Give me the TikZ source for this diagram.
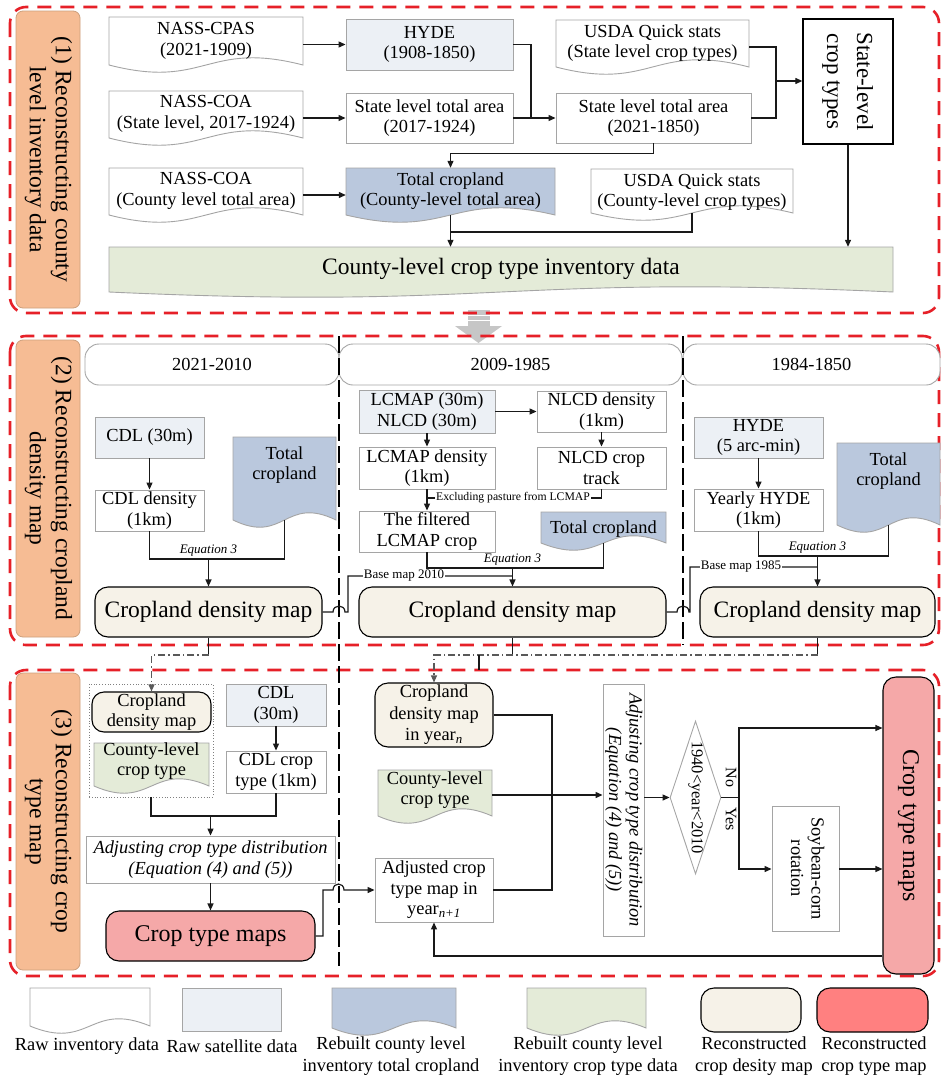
\documentclass[tikz,border=0pt]{standalone}
\usepackage{fontspec}
\setmainfont{Liberation Serif}
\usepackage{graphicx}
\usetikzlibrary{arrows.meta,shapes.geometric,fit,calc}

\definecolor{redd}{RGB}{230,32,40}
\definecolor{orangef}{RGB}{246,188,148}
\definecolor{oranged}{RGB}{205,160,125}
\definecolor{satf}{RGB}{236,240,245}
\definecolor{bluef}{RGB}{186,200,221}
\definecolor{greenf}{RGB}{228,235,216}
\definecolor{creamf}{RGB}{246,242,232}
\definecolor{pinkf}{RGB}{245,168,168}
\definecolor{legred}{RGB}{255,128,128}
\definecolor{boxline}{RGB}{165,165,165}

\newcommand\fN{\fontsize{18.4}{20.5}\selectfont}
\newcommand\fL{\fontsize{23.5}{26}\selectfont}
\newcommand\fS{\fontsize{13}{15}\selectfont}

% [k] name x0 x1 top ye fill texty text
\newcommand\docnode[9][25]{%
  \path[draw=boxline, line width=0.9pt, fill=#7] (#3,#5) -- (#4,#5) -- (#4,#6)
    .. controls ({(#3+#4)/2},#6-#1) and ({(#3+#4)/2},#6+#1) .. (#3,#6) -- cycle;
  \node[fit={(#3,#5) (#4,#6)}, inner sep=0pt] (#2) {};
  \node[align=center, inner sep=0pt, font=\fN] (#2-t) at ({(#3+#4)/2},#8) {#9};
}

\begin{document}
\begin{tikzpicture}[x=1pt,y=-1pt,
  box/.style={draw=boxline, line width=0.9pt, fill=white, inner sep=0pt, align=center, font=\fN},
  sat/.style={box, fill=satf},
  cream/.style={draw=black, line width=1.1pt, fill=creamf, rounded corners=13pt, inner sep=0pt, align=center, font=\fN},
  pinkr/.style={cream, fill=pinkf},
  hdr/.style={draw=boxline, line width=0.9pt, fill=white, rounded corners=14pt, inner sep=0pt, font=\fN},
  secl/.style={draw=oranged, line width=0.8pt, fill=orangef, rounded corners=7pt, inner sep=0pt, font=\fL},
  conn/.style={draw=black!90, line width=1.2pt},
  arr/.style={conn, -{Triangle[length=7pt,width=6pt]}},
  dd/.style={draw=black!65, line width=1.1pt, dash pattern=on 7pt off 3pt on 1.5pt off 3pt},
  divl/.style={draw=black, line width=1.3pt, dash pattern=on 17pt off 5pt},
  redbox/.style={draw=redd, line width=2.6pt, dash pattern=on 14pt off 9pt, rounded corners=16pt},
  eqn/.style={font=\fS\itshape, inner sep=1pt},
  lbl/.style={font=\fS, fill=white, inner sep=1pt},
  exl/.style={font=\fontsize{11.7}{13}\selectfont, fill=white, inner sep=1pt},
  leg/.style={font=\fontsize{18.4}{22}\selectfont, align=center, inner sep=0pt},
]
\useasboundingbox (0,0) rectangle (942,1076);
\fill[white] (0,0) rectangle (942,1076);

% grey block arrow between sections
\fill[gray!45] (468,310) rectangle (490,326);
\draw[white, line width=0.8pt] (468,315) -- (490,315) (468,320) -- (490,320);
\fill[gray!45] (455,326) -- (502,326) -- (478.5,343) -- cycle;

% red section frames
\draw[redbox] (10,7) rectangle (939,313);
\draw[redbox] (10,336) rectangle (939,645);
\draw[redbox] (10,670) rectangle (939,976);

% section labels
\node[secl, minimum width=64, minimum height=297] (s1) at (48,159.5) {\rotatebox{-90}{\begin{tabular}{@{}c@{}}(1) Reconstructing county\\level inventory data\end{tabular}}};
\node[secl, minimum width=64, minimum height=297] (s2) at (48,488.5) {\rotatebox{-90}{\begin{tabular}{@{}c@{}}(2) Reconstructing cropland\\density map\end{tabular}}};
\node[secl, minimum width=64, minimum height=297] (s3) at (48,821.5) {\rotatebox{-90}{\begin{tabular}{@{}c@{}}(3) Reconstructing crop\\type map\end{tabular}}};

% ---------------- Section 1 ----------------
\docnode{cpas}{109}{303}{17}{65}{white}{41}{NASS-CPAS\\(2021-1909)}
\node[sat, minimum width=167, minimum height=51] (hyde) at (429.5,44.5) {HYDE\\(1908-1850)};
\docnode{coaS}{109}{303}{91}{138}{white}{114}{NASS-COA\\(State level, 2017-1924)}
\node[box, minimum width=167, minimum height=50] (st1) at (429.5,118) {State level total area\\(2017-1924)};
\docnode{coaC}{109}{303}{168}{215}{white}{191}{NASS-COA\\(County level total area)}
\docnode{totC}{346}{555}{168}{215}{bluef}{191}{Total cropland\\(County-level total area)}
\docnode{usS}{556}{749}{20}{67}{white}{43}{USDA Quick stats\\(State level crop types)}
\node[box, minimum width=195, minimum height=50] (st2) at (653.5,118) {State level total area\\(2021-1850)};
\docnode{usC}{591}{793}{169}{213}{white}{192}{USDA Quick stats\\(County-level crop types)}
\node[box, draw=black, line width=1.3pt, minimum width=90, minimum height=125, font=\fontsize{23}{30}\selectfont] (sct) at (848,81.5) {\rotatebox{-90}{\begin{tabular}{@{}c@{}}State-level\\crop types\end{tabular}}};
\docnode[18]{inv}{109}{893}{247}{292}{greenf}{269}{\fL County-level crop type inventory data}

\draw[arr] (cpas.east |- hyde.west) -- (hyde.west);
\draw[arr] (coaS.east |- st1.west) -- (st1.west);
\draw[arr] ([yshift=-3.5pt]coaC.east) -- ([yshift=-3.5pt]totC.west);
\draw[conn] (hyde.east) -| (531,118);
\draw[arr] (st1.east) -- (st2.west);
\draw[conn] (usS.east |- 0,47) -| (776,118) -- (st2.east);
\coordinate (j2) at (776,81);
\draw[arr] (j2) -- (sct.west |- j2);
\draw[arr] (st2.south) -- ++(0,10) -| (totC.north);
\draw[arr] (totC.south) -- (totC.south |- inv.north);
\draw[conn] (usC.south) |- (totC.south |- 0,232);
\draw[arr] (sct.south) -- (sct.south |- inv.north);

% ---------------- Section 2 ----------------
\node[hdr, minimum width=254, minimum height=41] (h1) at (212,364.5) {2021-2010};
\node[hdr, minimum width=343, minimum height=41] (h2) at (510.5,364.5) {2009-1985};
\node[hdr, minimum width=257, minimum height=41] (h3) at (811.5,364.5) {1984-1850};
\draw[divl] (339,336) -- (339,966);
\draw[divl] (683,336) -- (683,645);

\node[sat, minimum width=109, minimum height=41] (cdl30) at (149.5,437.5) {CDL (30m)};
\node[box, minimum width=109, minimum height=41] (cdlden) at (149.5,510.5) {CDL density\\(1km)};
\docnode{tc1}{233}{336}{437}{520}{bluef}{465}{Total\\cropland}
\node[cream, minimum width=227, minimum height=50, font=\fL] (map1) at (208.5,612) {Cropland density map};

\node[sat, minimum width=136, minimum height=43] (lcmap) at (427,411.5) {LCMAP (30m)\\NLCD (30m)};
\node[box, minimum width=129, minimum height=41] (nlcdden) at (601.5,411.5) {NLCD density\\(1km)};
\node[box, minimum width=136, minimum height=42] (lcden) at (427,468) {LCMAP density\\(1km)};
\node[box, minimum width=129, minimum height=42] (nlcdtr) at (601.5,468) {NLCD crop\\track};
\node[box, minimum width=136, minimum height=41] (filt) at (427,531.5) {The filtered\\LCMAP crop};
\docnode{tc2}{541}{666}{512}{543}{bluef}{529}{Total cropland}
\node[cream, minimum width=307, minimum height=50, font=\fL] (map2) at (512.5,612) {Cropland density map};

\node[sat, minimum width=129, minimum height=41] (hyde5) at (758.5,437.5) {HYDE\\(5 arc-min)};
\node[box, minimum width=129, minimum height=42] (yhyde) at (758.5,510) {Yearly HYDE\\(1km)};
\docnode{tc3}{837}{940}{443}{525}{bluef}{471}{Total\\cropland}
\node[cream, minimum width=235, minimum height=50, font=\fL] (map3) at (817.5,612) {Cropland density map};

% col 1
\draw[arr] (cdl30) -- (cdlden);
\draw[conn] (cdlden.south) -- (cdlden.south |- 0,559) -| (tc1.south);
\draw[arr] (map1.north |- 0,559) -- (map1.north);
\node[eqn] (eq1) at (208.5,551) {Equation 3};
\draw[conn] (map1.east) -- (333,612) .. controls (333,604) and (345,604) .. (345,612) -- (348,612) -- (348,576) -- (map2.north |- 0,576);
\node[lbl] (bm1) at (404,576) {Base map 2010};
% col 2
\draw[arr] (lcmap) -- (nlcdden);
\draw[arr] (lcmap) -- (lcden);
\draw[arr] (nlcdden) -- (nlcdtr);
\draw[arr] (lcden) -- (filt);
\draw[conn] (nlcdtr.south) -- (nlcdtr.south |- 0,498) -- (lcden.south |- 0,498);
\node[exl] (excl) at (513,498) {Excluding pasture from LCMAP};
\draw[conn] (filt.south) -- (filt.south |- 0,568) -| (tc2.south);
\draw[arr] (map2.north |- 0,568) -- (map2.north);
\node[eqn] (eq2) at (512.5,560) {Equation 3};
\draw[conn] (map2.east) -- (677,612) .. controls (677,604) and (689,604) .. (689,612) -- (690,612) -- (690,567) -- (map3.north |- 0,567);
\node[lbl] (bm2) at (741,567) {Base map 1985};
% col 3
\draw[arr] (hyde5) -- (yhyde);
\draw[conn] (yhyde.south) -- (yhyde.south |- 0,556) -| (tc3.south);
\draw[arr] (map3.north |- 0,556) -- (map3.north);
\node[eqn] (eq3) at (817.5,548) {Equation 3};

% ---------------- Section 3 ----------------
\node[draw=black!50, dotted, line width=0.8pt, minimum width=124, minimum height=113, inner sep=0pt] (grp) at (151,740.5) {};
\node[cream, minimum width=119, minimum height=40, rounded corners=12pt] (cdmA) at (151.5,712) {Cropland\\density map};
\docnode{ctA}{94}{209}{743}{786}{greenf}{761}{County-level\\crop type}
\node[sat, minimum width=100, minimum height=42] (cdl30b) at (276,705) {CDL\\(30m)};
\node[box, minimum width=100, minimum height=42] (cdlct) at (276,772) {CDL crop\\type (1km)};
\node[box, minimum width=249, minimum height=47, font=\fN\itshape] (adj1) at (210.5,859.5) {Adjusting crop type distribution\\(Equation (4) and (5))};
\node[pinkr, minimum width=209, minimum height=50, font=\fontsize{24}{26}\selectfont] (ctm1) at (210.5,936) {Crop type maps};

\node[cream, minimum width=118, minimum height=64, font=\fontsize{18.4}{21.5}\selectfont] (cdmn) at (434,715) {Cropland\\density map\\in year\textsubscript{\itshape n}};
\docnode{ctn}{378}{492}{770}{816}{greenf}{790}{County-level\\crop type}
\node[box, minimum width=118, minimum height=64] (adjn) at (434,890) {Adjusted crop\\type map in\\year\textsubscript{\itshape n+1}};
\node[box, minimum width=41, minimum height=252, font=\fN\itshape] (adj2) at (623.5,810) {\rotatebox{-90}{\begin{tabular}{@{}c@{}}Adjusting crop type distribution\\(Equation (4) and (5))\end{tabular}}};
\node[draw=boxline, line width=0.9pt, diamond, minimum width=51, minimum height=153, inner sep=0pt] (dia) at (695.5,797.5) {};
\node[font=\fontsize{16.5}{18}\selectfont, inner sep=0pt] (diat) at (dia) {\rotatebox{-90}{1940<year<2010}};
\node[font=\fontsize{16}{18}\selectfont, inner sep=0pt] (no) at (731,777.5) {\rotatebox{-90}{No}};
\node[font=\fontsize{16}{18}\selectfont, inner sep=0pt] (yes) at (731,819.5) {\rotatebox{-90}{Yes}};
\node[box, minimum width=67, minimum height=125] (soy) at (805.5,868.5) {\rotatebox{-90}{\begin{tabular}{@{}c@{}}Soybean-corn\\rotation\end{tabular}}};
\node[pinkr, minimum width=51, minimum height=297, font=\fontsize{24}{26}\selectfont] (ctm2) at (908.5,825.5) {\rotatebox{-90}{Crop type maps}};

% links from section 2 to section 3
\draw[conn] (map1.south) -- (map1.south |- 0,655);
\draw[dd, -{Triangle[length=7pt,width=6pt]}] (map1.south |- 0,655) -| (cdmA.north);
\draw[conn] (map2.south) -- (map2.south |- 0,655);
\draw[conn] (map3.south) -- (map3.south |- 0,655);
\draw[dd, -{Triangle[length=7pt,width=6pt]}] (map3.south |- 0,655) -| (cdmn.north);
\draw[conn] (479,655) -- (479,670);

% section 3 col 1
\draw[conn] (grp.south) -- (grp.south |- 0,816) -| (cdlct.south);
\draw[arr] (adj1.north |- 0,816) -- (adj1.north);
\draw[arr] (cdl30b) -- (cdlct);
\draw[arr] (adj1) -- (ctm1);
\draw[arr] (ctm1.east) -- (323,936) -- (323,890) -- (333,890) .. controls (333,882) and (344,882) .. (344,890) -- (adjn.west);
% section 3 col 2
\draw[conn] (cdmn.east) -- (552,715) -- (552,890) -- (adjn.east);
\draw[arr] (ctn.east |- 0,795) -- (adj2.west |- 0,795);
\draw[arr] (adj2.east |- dia.west) -- (dia.west);
\draw[conn] (dia.east) -- (739,797.5);
\draw[arr] (739,797.5) -- (739,728) -- (ctm2.west |- 0,728);
\draw[arr] (739,797.5) -- (739,869) -- (soy.west |- 0,869);
\draw[arr] (soy.east |- 0,869) -- (ctm2.west |- 0,869);
\draw[arr] (ctm2.west |- 0,956) -- (adjn.south |- 0,956) -- (adjn.south);

% ---------------- Legend ----------------
\docnode{lg1}{30}{150}{988}{1026}{white}{1007}{}
\node[sat, minimum width=99, minimum height=43] (lg2) at (231.5,1009.5) {};
\docnode{lg3}{332}{456}{988}{1028}{bluef}{1008}{}
\docnode{lg4}{527}{646}{988}{1028}{greenf}{1008}{}
\node[cream, minimum width=100, minimum height=44] (lg5) at (751,1010) {};
\node[pinkr, fill=legred, minimum width=111, minimum height=44] (lg6) at (872.5,1010) {};
\node[leg] (lt1) at (87,1046) {Raw inventory data};
\node[leg] (lt2) at (232,1046) {Raw satellite data};
\node[leg] (lt3) at (391,1056) {Rebuilt county level\\inventory total cropland};
\node[leg] (lt4) at (588,1056) {Rebuilt county level\\inventory crop type data};
\node[leg] (lt5) at (754,1056) {Reconstructed\\crop desity map};
\node[leg] (lt6) at (874,1056) {Reconstructed\\crop type map};
\end{tikzpicture}
\end{document}
